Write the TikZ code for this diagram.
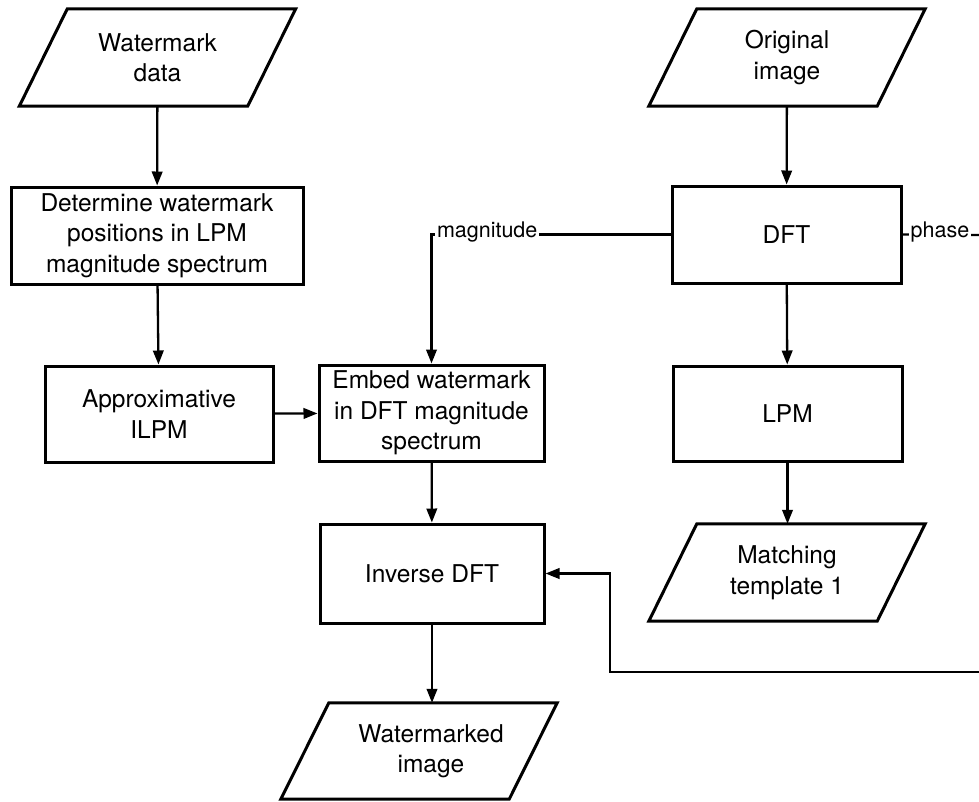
\documentclass[tikz,border=0pt]{standalone}
\usepackage{fontspec}
\setmainfont{TeX Gyre Heros}
\usetikzlibrary{arrows.meta,calc}

\begin{document}
\begin{tikzpicture}[
  x=1pt, y=-1pt,
  boxfont/.style={font=\fontsize{24.5}{30.5}\selectfont},
  proc/.style={draw, line width=3pt, boxfont, align=center, inner sep=0pt},
  data/.style={boxfont, align=center, inner sep=0pt, minimum width=228pt, minimum height=97pt},
  databorder/.style={line width=3pt, line join=miter},
  conn/.style={line width=2.3pt},
  arr/.style={conn, -{Triangle[length=14pt,width=10.5pt]}},
  lbl/.style={font=\fontsize{21.5}{24}\selectfont, fill=white, inner sep=2pt, anchor=mid}
]
\useasboundingbox (0,0) rectangle (979,801);

% input / output parallelograms (text nodes; borders drawn below)
\node[data] (wd) at (157.5,57.5) {Watermark\\data};
\node[data] (oi) at (787,57.5) {Original\\image};
\node[data] (mt) at (787,572.5) {Matching\\template 1};
\node[data, minimum height=96pt] (wi) at (431,751) {Watermarked\\image};

\foreach \n/\d in {wd/0,oi/0,mt/0,wi/-12}{
  \draw[databorder]
    ($(\n.north west)+(24+\d,0)$) -- ($(\n.north east)+(24+\d,0)$) --
    ($(\n.south east)+(-24+\d,0)$) -- ($(\n.south west)+(-24+\d,0)$) -- cycle;
}

% processing blocks
\node[proc, minimum width=292pt, minimum height=97pt] (det) at (157,235.5)
  {Determine watermark\\positions in LPM\\magnitude spectrum};
\node[proc, minimum width=228pt, minimum height=96pt] (ilpm) at (159,414)
  {Approximative\\ILPM};
\node[proc, minimum width=225pt, minimum height=96pt] (emb) at (431.5,413)
  {Embed watermark\\in DFT magnitude\\spectrum};
\node[proc, minimum width=224pt, minimum height=99pt] (inv) at (432,573.5)
  {Inverse DFT};
\node[proc, minimum width=229pt, minimum height=97pt] (dft) at (786.5,234.5)
  {DFT};
\node[proc, minimum width=229pt, minimum height=95pt] (lpm) at (787.5,413.5)
  {LPM};

% straight flow
\draw[arr] (wd) -- (det);
\draw[arr] (det) -- (ilpm);
\draw[arr] (ilpm) -- (emb);
\draw[arr] (emb) -- (inv);
\draw[arr] (inv) -- (wi.north -| inv.south);
\draw[arr] (oi) -- (dft);
\draw[arr] (dft) -- (lpm);
\draw[arr] (lpm) -- (mt.north -| lpm.south);

% magnitude branch
\coordinate (mc) at (emb.north |- dft.west);
\draw[arr] (dft.west) -- node[lbl, pos=0.767] {magnitude} (mc) -- (emb.north);

% phase branch (leaves at the right edge, returns along the bottom)
\coordinate (pe) at (979,235);
\draw[conn] (dft.east) -- node[lbl, pos=0.49] {phase} (pe);
\coordinate (be) at (979,672);
\coordinate (b1) at (610,672);
\draw[arr] (be) -- (b1) |- (inv.east);
\end{tikzpicture}
\end{document}
